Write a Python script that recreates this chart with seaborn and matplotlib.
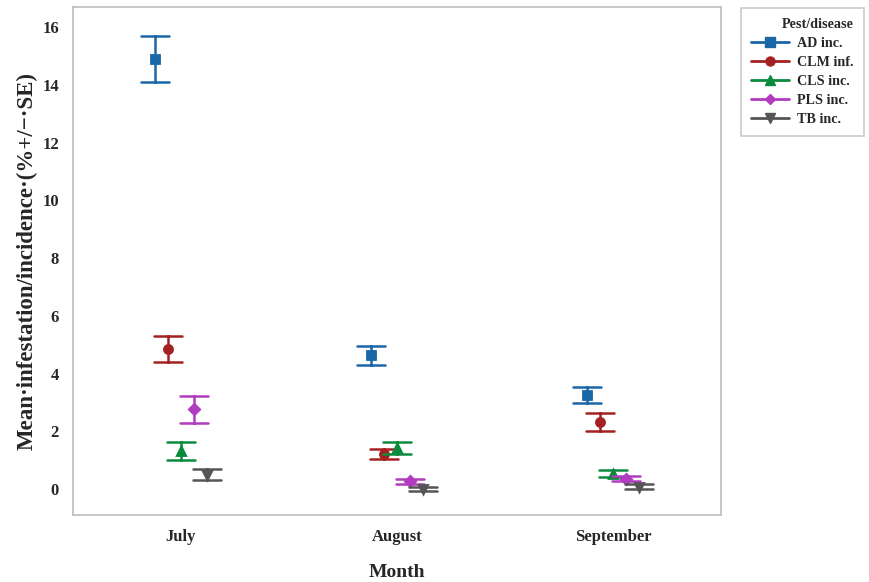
import matplotlib
matplotlib.use("Agg")
import matplotlib.pyplot as plt
from matplotlib.lines import Line2D
import numpy as np
import pandas as pd
import seaborn as sns

# Monthly means and standard errors per pest/disease
months = ["July", "August", "September"]
pests = ["AD inc.", "CLM inf.", "CLS inc.", "PLS inc.", "TB inc."]
ad_mean = [14.90, 4.63, 3.26]
ad_se = [0.81, 0.32, 0.29]
clm_mean = [4.85, 1.21, 2.32]
clm_se = [0.45, 0.17, 0.30]
cls_mean = [1.32, 1.43, 0.53]
cls_se = [0.32, 0.21, 0.13]
pls_mean = [2.76, 0.27, 0.36]
pls_se = [0.46, 0.08, 0.09]
tb_mean = [0.50, 0.01, 0.08]
tb_se = [0.19, 0.07, 0.08]

means = [ad_mean, clm_mean, cls_mean, pls_mean, tb_mean]
ses = [ad_se, clm_se, cls_se, pls_se, tb_se]
colors = ["#1a67a8", "#a52121", "#0a8a3c", "#b23cc0", "#555555"]
markers = ["s", "o", "^", "D", "v"]

# Each group is stored as its lower and upper bound so that the mean is the
# estimate and the min/max span is the +/- SE interval.
rows = []
for pest, mvals, svals in zip(pests, means, ses):
    for month, m, s in zip(months, mvals, svals):
        rows.append({"Month": month, "Pest/disease": pest, "value": m - s})
        rows.append({"Month": month, "Pest/disease": pest, "value": m + s})
df = pd.DataFrame(rows)

sns.set_theme(style="white")
plt.rcParams["font.family"] = ["Liberation Serif", "DejaVu Serif"]
plt.rcParams["font.weight"] = "bold"

fig = plt.figure(figsize=(8.7, 5.82), dpi=100)
ax = fig.add_axes([0.0839, 0.1151, 0.7448, 0.8729])

sns.pointplot(
    data=df, x="Month", y="value", hue="Pest/disease",
    order=months, hue_order=pests,
    estimator="mean", errorbar=lambda v: (v.min(), v.max()),
    dodge=0.24, linestyle="none", markers=markers,
    palette=colors, capsize=0.13, err_kws={"linewidth": 1.8},
    markersize=5.8, ax=ax, legend=False,
)
# the diamond reads larger than the other symbols; trim it
for line in ax.lines:
    if line.get_marker() == "D":
        line.set_markersize(4.6)

ax.set_xlim(-0.5, 2.5)
ax.set_ylim(-0.9, 16.7)
ax.set_yticks(np.arange(0, 17, 2))
ax.set_xlabel("Month", fontsize=14, fontweight="bold", labelpad=14)
ax.set_ylabel("Mean·infestation/incidence·(%+/−·SE)", fontsize=16.5,
              fontweight="bold", labelpad=3)
ax.tick_params(axis="both", which="both", direction="out", length=4,
               width=0.8, color="#b0b0b0", labelsize=12, pad=6)
for lab in ax.get_xticklabels() + ax.get_yticklabels():
    lab.set_fontweight("bold")
for sp in ax.spines.values():
    sp.set_color("#bdbdbd")
    sp.set_linewidth(1.2)

handles = [
    Line2D([], [], color=c, marker=mk, markersize=(5 if mk == "D" else 6.5),
           linewidth=2)
    for c, mk in zip(colors, markers)
]
leg = fig.legend(
    handles, pests, title="Pest/disease", loc="upper left",
    bbox_to_anchor=(0.852, 0.986), frameon=True, fancybox=False,
    prop={"size": 10.2, "weight": "bold"},
    title_fontproperties={"size": 10.2, "weight": "bold"},
    handlelength=2.7, handletextpad=0.55, borderpad=0.7, labelspacing=0.42,
    borderaxespad=0.0, alignment="right",
)
leg.get_frame().set_edgecolor("#bdbdbd")
leg.get_frame().set_linewidth(1.2)

fig.savefig("out.png", dpi=100, facecolor="white")
